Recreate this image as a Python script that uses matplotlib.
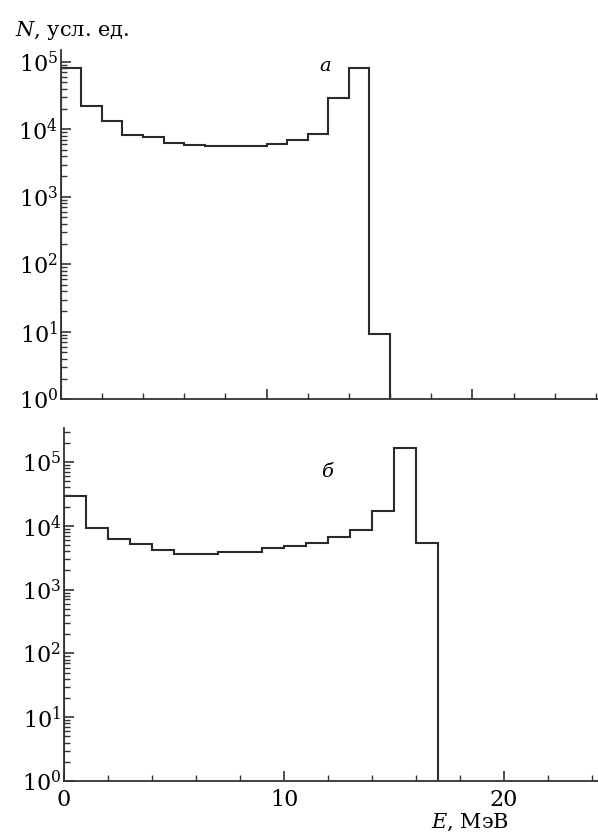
import numpy as np
import matplotlib
matplotlib.use("Agg")
import matplotlib.pyplot as plt
from matplotlib.ticker import LogLocator, FixedLocator, LogFormatterMathtext, NullFormatter

plt.rcParams['font.family'] = ['DejaVu Serif']
plt.rcParams['mathtext.fontset'] = 'custom'
plt.rcParams['mathtext.rm'] = 'DejaVu Serif'
plt.rcParams['mathtext.it'] = 'DejaVu Serif:italic'
plt.rcParams['mathtext.default'] = 'regular'

# Panel a: bin edges (MeV) and counts
edges_a = np.arange(0, 17)
counts_a = [81000, 21900, 13100, 8350, 7600, 6280, 5930, 5600, 5600, 5600,
            6070, 7030, 8550, 29200, 81000, 9.2]
# Panel b
edges_b = np.arange(0, 18)
counts_b = [29300, 9140, 6140, 5130, 4180, 3580, 3580, 3930, 3930, 4440,
            4780, 5320, 6600, 8600, 17300, 167000, 5320]

x_major = [0, 10, 20]
x_minor = list(range(0, 27, 2))
panel_labels = ['а', 'б']
ylabel_text = r'$\mathit{N}$, усл. ед.'
xlabel_text = r'$\mathit{E}$, МэВ'

W, H = 598, 835
fig = plt.figure(figsize=(W / 100, H / 100), dpi=100)

def px_axes(left, top, right, bottom):
    return fig.add_axes([left / W, 1 - bottom / H, (right - left) / W, (bottom - top) / H])

ax_a = px_axes(60.7, 50, 598, 399.3)
ax_b = px_axes(64, 428, 598, 781)

lc = '#2a2a2a'
for ax, edges, counts, xmax, ymax in [
        (ax_a, edges_a, counts_a, 26.1, 10 ** 5.175),
        (ax_b, edges_b, counts_b, 24.27, 10 ** 5.533)]:
    ax.stairs(counts, edges, baseline=1, color=lc, linewidth=1.5)
    ax.set_yscale('log')
    ax.set_xlim(0, xmax)
    ax.set_ylim(1, ymax)
    for s in ['top', 'right']:
        ax.spines[s].set_visible(False)
    for s in ['left', 'bottom']:
        ax.spines[s].set_color('#333333')
        ax.spines[s].set_linewidth(1.3)
    ax.yaxis.set_major_locator(LogLocator(base=10, numticks=10))
    ax.yaxis.set_minor_locator(LogLocator(base=10, subs=np.arange(2, 10), numticks=20))
    ax.yaxis.set_major_formatter(LogFormatterMathtext())
    ax.yaxis.set_minor_formatter(NullFormatter())
    ax.xaxis.set_major_locator(FixedLocator(x_major))
    ax.xaxis.set_minor_locator(FixedLocator(x_minor))
    ax.tick_params(axis='both', which='major', direction='in', length=7, width=1.2,
                   color='#333333', labelsize=16, pad=2)
    ax.tick_params(axis='both', which='minor', direction='in', length=4, width=1.0,
                   color='#333333')

ax_a.tick_params(axis='x', which='both', labelbottom=False)
ax_b.tick_params(axis='x', which='major', labelsize=16, pad=6)

fig.text(325 / W, 1 - 66 / H, panel_labels[0], fontsize=14, style='italic', ha='center', va='center')
fig.text(327 / W, 1 - 472 / H, panel_labels[1], fontsize=14, style='italic', ha='center', va='center')

fig.text(15 / W, 1 - 30 / H, ylabel_text, fontsize=15, ha='left', va='center')
fig.text(431 / W, 1 - 822 / H, xlabel_text, fontsize=15, ha='left', va='center')

fig.savefig('out.png', dpi=100)
